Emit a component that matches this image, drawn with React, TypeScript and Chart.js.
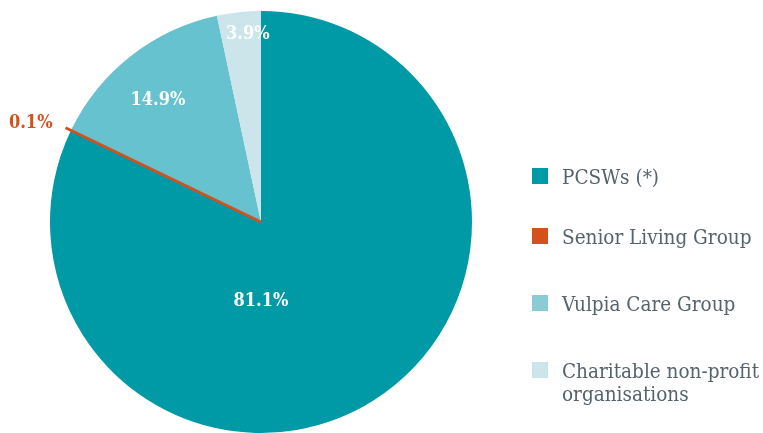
import React, { useEffect, useRef } from "react";
import { Chart, registerables } from "chart.js";

Chart.register(...registerables);

const categories = ["PCSWs (*)", "Senior Living Group", "Vulpia Care Group", "Charitable non-profit organisations"];
const legendLines = [["PCSWs (*)"], ["Senior Living Group"], ["Vulpia Care Group"], ["Charitable non-profit", "organisations"]];
// slice sizes as drawn in the picture (angles of the slices, in %)
const shares = [82.1, 0.1, 14.45, 3.35];
const valueLabels = ["81.1%", "0.1%", "14.9%", "3.9%"];
const sliceColors = ["#0099a6", "#d4501c", "#66c2cf", "#cbe5ea"];
const legendColors = ["#0099a6", "#d4501c", "#89ccd6", "#cbe5ea"];
const labelColors = ["#ffffff", "#d4501c", "#ffffff", "#ffffff"];

const FONT = "'DejaVu Serif Condensed', 'DejaVu Serif', serif";

const labelPlugin = {
  id: "sliceLabels",
  afterDatasetsDraw(chart: any) {
    const ctx = chart.ctx;
    const meta = chart.getDatasetMeta(0);
    // label placement: [degrees clockwise from top, radius fraction]
    const place: [number, number][] = [
      [180, 0.37],
      [293.5, 1.19],
      [320, 0.76],
      [356, 0.895],
    ];
    meta.data.forEach((arc: any, i: number) => {
      const p = arc.getProps(["x", "y", "startAngle", "endAngle", "outerRadius"], true);
      const mid = (p.startAngle + p.endAngle) / 2;
      if (i === 1) {
        ctx.save();
        ctx.strokeStyle = sliceColors[1];
        ctx.lineWidth = 3;
        ctx.beginPath();
        ctx.moveTo(p.x, p.y);
        ctx.lineTo(p.x + Math.cos(mid) * (p.outerRadius + 6), p.y + Math.sin(mid) * (p.outerRadius + 6));
        ctx.stroke();
        ctx.restore();
      }
      const a = (place[i][0] - 90) * Math.PI / 180;
      const r = p.outerRadius * place[i][1];
      ctx.save();
      ctx.font = `bold 18px ${FONT}`;
      ctx.fillStyle = labelColors[i];
      ctx.textAlign = "center";
      ctx.textBaseline = "middle";
      ctx.fillText(valueLabels[i], p.x + Math.cos(a) * r, p.y + Math.sin(a) * r + 1);
      ctx.restore();
    });
  },
};

const legendPlugin = {
  id: "sideLegend",
  afterDraw(chart: any) {
    const ctx = chart.ctx;
    const boxTops = [168, 228, 295, 362];
    ctx.save();
    legendLines.forEach((lines, i) => {
      ctx.fillStyle = legendColors[i];
      ctx.fillRect(532, boxTops[i], 16, 16);
      ctx.fillStyle = "#55636b";
      ctx.font = `20.5px ${FONT}`;
      ctx.textAlign = "left";
      ctx.textBaseline = "alphabetic";
      lines.forEach((t, j) => {
        ctx.fillText(t, 562, boxTops[i] + 16 + j * 23);
      });
    });
    ctx.restore();
  },
};

export default function App() {
  const ref = useRef<HTMLCanvasElement>(null);
  useEffect(() => {
    const chart = new Chart(ref.current!, {
      type: "pie",
      data: {
        labels: categories,
        datasets: [
          {
            data: shares,
            backgroundColor: sliceColors,
            borderWidth: 0,
          },
        ],
      },
      options: {
        animation: false,
        responsive: false,
        layout: { padding: { top: 11, bottom: 0, left: 50, right: 291 } },
        plugins: {
          legend: { display: false },
          tooltip: { enabled: false },
        },
      },
      plugins: [labelPlugin, legendPlugin],
    });
    return () => chart.destroy();
  }, []);
  return (
    <div style={{ position: "fixed", left: 0, top: 0, width: 763, height: 433, background: "#fff" }}>
      <canvas ref={ref} width={763} height={433} />
    </div>
  );
}
